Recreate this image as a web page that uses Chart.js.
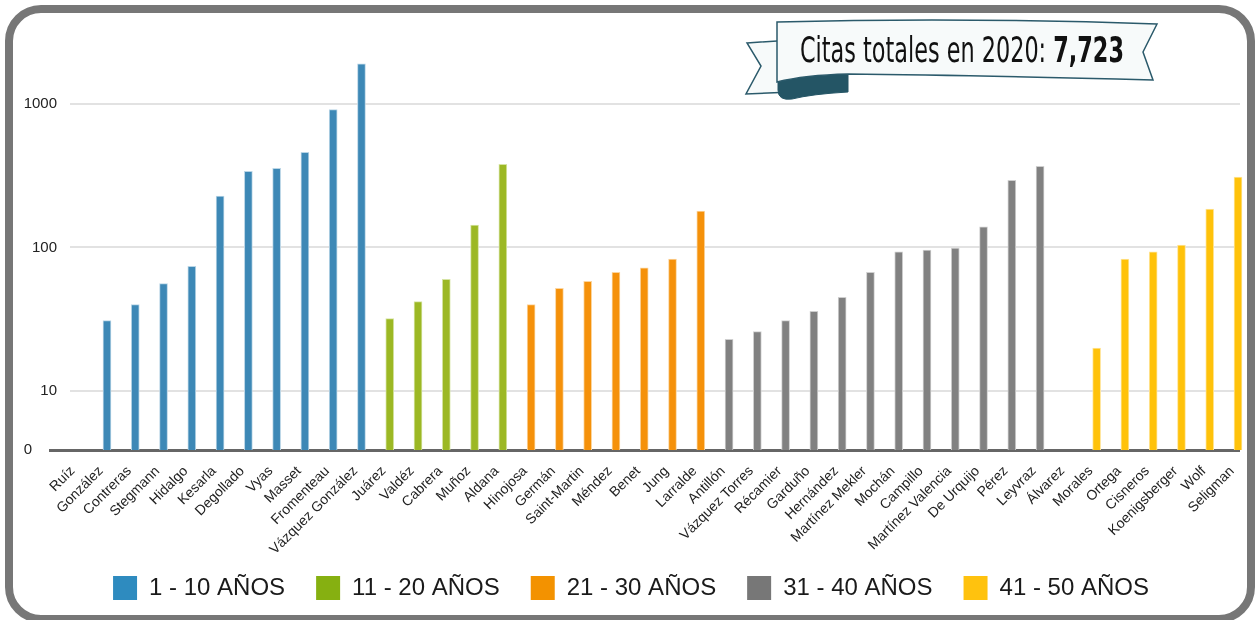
<!DOCTYPE html>
<html>
<head>
<meta charset="utf-8">
<script src="https://cdn.jsdelivr.net/npm/chart.js@4/dist/chart.umd.min.js"></script>
<style>
  html, body { margin: 0; padding: 0; background: #fff; }
  #wrap { position: relative; width: 1256px; height: 620px; overflow: hidden; }
  #chart { position: absolute; left: 0; top: 0; }
  #frame {
    position: absolute; left: 5px; top: 5px; width: 1250px; height: 618px;
    box-sizing: border-box; border: 8px solid #777; border-radius: 36px;
    pointer-events: none;
  }
  #ribbon { position: absolute; left: 0; top: 0; pointer-events: none; }
  #title {
    position: absolute; left: 800px; top: 30px; white-space: nowrap;
    font-family: "Liberation Sans Narrow", "DejaVu Sans Condensed", sans-serif;
    font-size: 35px; line-height: 40px; color: #111; transform-origin: 0 50%;
  }
</style>
</head>
<body>
<div id="wrap">
  <canvas id="chart" width="1256" height="620"></canvas>
  <svg id="ribbon" width="1256" height="620">
    <path d="M747,43 L792,40 L792,92 L746,94 L761,66 Z" fill="#f7fafa" stroke="#2b5a6b" stroke-width="1.5"/>
    <path d="M778,80 Q812,74 848,73 L848,92 Q812,94 792,99 Q778,101 778,90 Z" fill="#245565" stroke="#245565" stroke-width="1"/>
    <path d="M777,22 Q960,17 1157,24 L1143,52 L1153,80 Q960,75 848,74 Q805,75 777,82 Z" fill="#f7fafa" stroke="#2b5a6b" stroke-width="1.5"/>
  </svg>
  <div id="title">Citas totales en 2020: <b>7,723</b></div>
  <div id="frame"></div>
</div>
<script>
// investigadores por grupo de edad (citas en 2020)
const names1 = ['Ruíz', 'González', 'Contreras', 'Stegmann', 'Hidalgo', 'Kesarla', 'Degollado', 'Vyas', 'Masset', 'Fromenteau', 'Vázquez González'];
const values1 = [0, 31, 40, 56, 74, 227, 338, 355, 458, 908, 1890];

const names2 = ['Juárez', 'Valdéz', 'Cabrera', 'Muñoz', 'Aldana'];
const values2 = [32, 42, 60, 143, 378];

const names3 = ['Hinojosa', 'Germán', 'Saint-Martin', 'Méndez', 'Benet', 'Jung', 'Larralde'];
const values3 = [40, 52, 58, 67, 72, 83, 179];

const names4 = ['Antillón', 'Vázquez Torres', 'Récamier', 'Garduño', 'Hernández', 'Martínez Mekler', 'Mochán', 'Campillo', 'Martínez Valencia', 'De Urquijo', 'Pérez', 'Leyvraz', 'Álvarez'];
const values4 = [23, 26, 31, 36, 45, 67, 93, 96, 99, 139, 293, 366, 0];

const names5 = ['Morales', 'Ortega', 'Cisneros', 'Koenigsberger', 'Wolf', 'Seligman'];
const values5 = [20, 83, 93, 104, 185, 308];

const groupLabels = ['1 - 10 AÑOS', '11 - 20 AÑOS', '21 - 30 AÑOS', '31 - 40 AÑOS', '41 - 50 AÑOS'];
const yTicks = [10, 100, 1000];

const barColors = ['#3d88b6', '#9cb824', '#f5910a', '#818181', '#ffc20a'];
const edgeColors = ['#b9d5e6', '#d6e4a4', '#fbd59f', '#cfcfcf', '#ffe59a'];
const legendColors = ['#2e8bbf', '#86b011', '#f39200', '#777777', '#ffc20e'];

const Y_MIN = 3.906;
const Y_MAX = 3690;

const groupNames = [names1, names2, names3, names4, names5];
const groupValues = [values1, values2, values3, values4, values5];
const categories = [].concat(...groupNames);

let offset = 0;
const datasets = groupNames.map((list, g) => {
  const pts = groupValues[g].map((v, i) => ({ x: offset + i, y: v > 0 ? v : null }));
  offset += list.length;
  return {
    label: groupLabels[g],
    data: pts,
    backgroundColor: barColors[g],
    borderColor: edgeColors[g],
    borderWidth: 1,
    barThickness: 8,
    grouped: false,
    clip: false,
  };
});

// the thick base line runs a bit further left than the plot
const baseLine = {
  id: 'baseLine',
  beforeDatasetsDraw(chart) {
    const { ctx, chartArea } = chart;
    ctx.save();
    ctx.strokeStyle = '#666';
    ctx.lineWidth = 3;
    ctx.beginPath();
    ctx.moveTo(chartArea.left - 21, chartArea.bottom + 0.5);
    ctx.lineTo(chartArea.right, chartArea.bottom + 0.5);
    ctx.stroke();
    ctx.restore();
  }
};

new Chart(document.getElementById('chart'), {
  type: 'bar',
  data: { datasets },
  plugins: [baseLine],
  options: {
    responsive: false,
    animation: false,
    layout: { padding: { left: 22, right: 16, top: 20, bottom: 10 } },
    plugins: {
      tooltip: { enabled: false },
      legend: {
        position: 'bottom',
        labels: {
          boxWidth: 24,
          boxHeight: 24,
          padding: 31,
          color: '#1a1a1a',
          font: { family: 'Liberation Sans', size: 24 },
          generateLabels(chart) {
            return Chart.defaults.plugins.legend.labels.generateLabels(chart).map((item, i) => {
              item.fillStyle = legendColors[i];
              item.lineWidth = 0;
              item.strokeStyle = legendColors[i];
              return item;
            });
          }
        }
      }
    },
    scales: {
      x: {
        type: 'linear',
        offset: false,
        min: -0.308,
        max: 41.07,
        afterBuildTicks(scale) {
          scale.ticks = categories.map((_, i) => ({ value: i }));
        },
        afterFit(scale) {
          scale.height = 95;
          // long rotated names hang below the axis box, into the legend's top padding
          scale._computeLabelArea = () => undefined;
        },
        grid: { display: false },
        border: { display: false },
        ticks: {
          autoSkip: false,
          minRotation: 45,
          maxRotation: 45,
          padding: 5,
          labelOffset: -6,
          color: '#222',
          font: { family: 'Liberation Sans', size: 14 },
          callback: (v) => categories[v]
        }
      },
      y: {
        type: 'logarithmic',
        min: Y_MIN,
        max: Y_MAX,
        afterBuildTicks(scale) {
          scale.ticks = [Y_MIN].concat(yTicks).map(v => ({ value: v }));
        },
        afterFit(scale) { scale.width = 48; },
        border: { display: false },
        grid: {
          drawTicks: false,
          lineWidth: 2,
          color: (c) => (c.tick && c.tick.value === Y_MIN) ? 'rgba(0,0,0,0)' : '#e2e2e2'
        },
        ticks: {
          padding: 13,
          color: '#222',
          font: { family: 'Liberation Sans', size: 15 },
          callback: (v) => v === Y_MIN ? '0      ' : String(v)
        }
      }
    }
  }
});

// fit the banner text to the ribbon width
const title = document.getElementById('title');
const w = title.getBoundingClientRect().width;
title.style.transform = 'scaleX(' + (324 / w) + ')';
</script>
</body>
</html>
